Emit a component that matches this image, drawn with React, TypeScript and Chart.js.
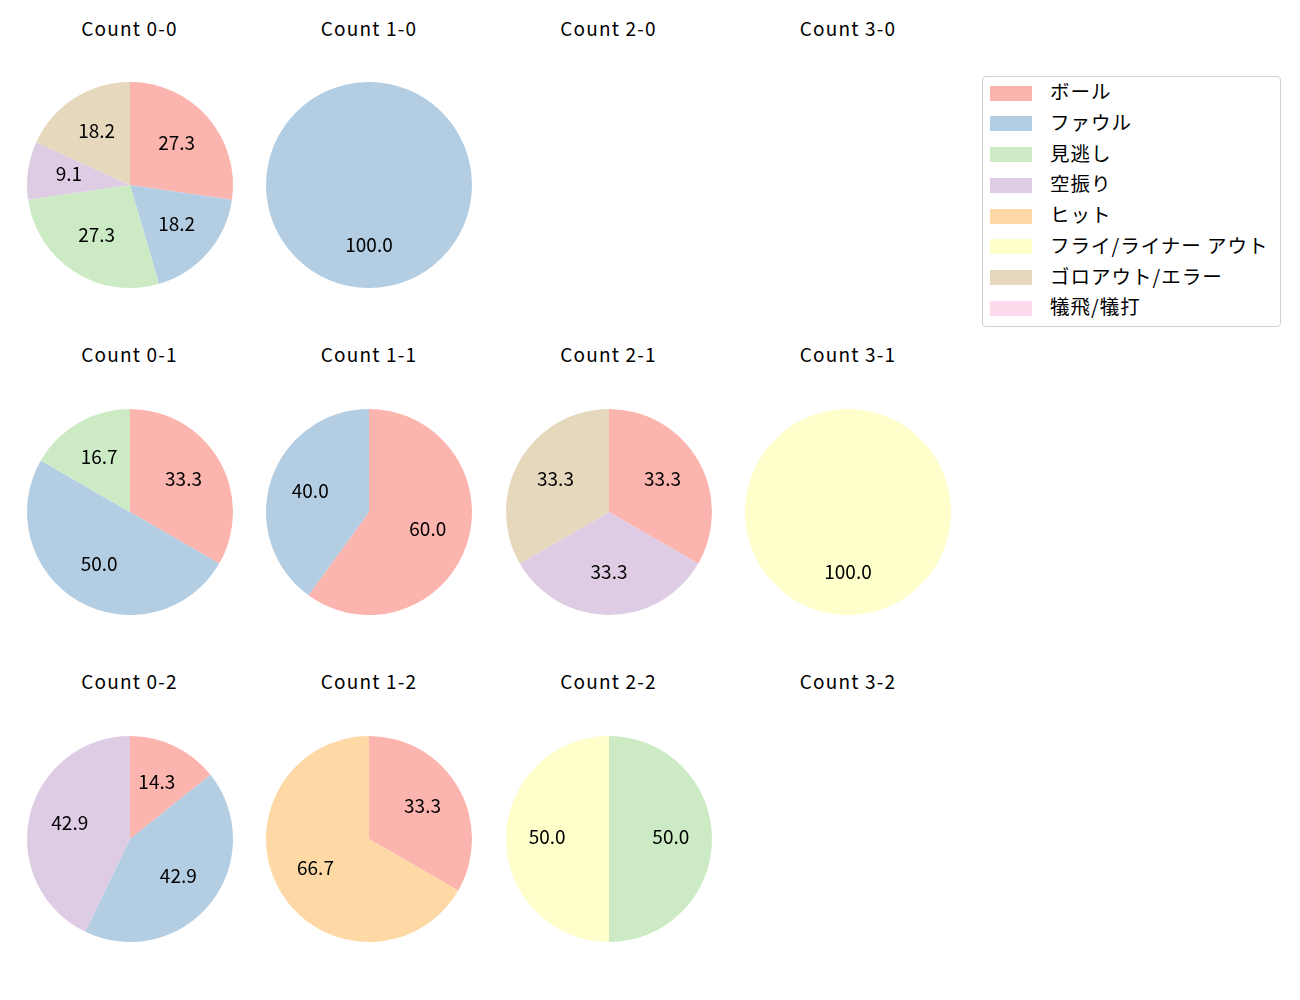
import React, { useEffect, useRef } from "react";
import { Chart, registerables } from "chart.js";

Chart.register(...registerables);

const countLabels = ["0-0", "1-0", "2-0", "3-0", "0-1", "1-1", "2-1", "3-1", "0-2", "1-2", "2-2", "3-2"];
const categories = ["ボール", "ファウル", "見逃し", "空振り", "ヒット", "フライ/ライナー アウト", "ゴロアウト/エラー", "犠飛/犠打"];
const colors = ["#fbb4ae", "#b3cde3", "#ccebc5", "#decbe4", "#fed9a6", "#ffffcc", "#e5d8bd", "#fddaec"];

// counts per category, in the order of countLabels
const ball = [3, 0, 0, 0, 2, 3, 1, 0, 1, 1, 0, 0];
const foul = [2, 1, 0, 0, 3, 2, 0, 0, 3, 0, 0, 0];
const looking = [3, 0, 0, 0, 1, 0, 0, 0, 0, 0, 1, 0];
const swinging = [1, 0, 0, 0, 0, 0, 1, 0, 3, 0, 0, 0];
const hit = [0, 0, 0, 0, 0, 0, 0, 0, 0, 2, 0, 0];
const flyOut = [0, 0, 0, 0, 0, 0, 0, 1, 0, 0, 1, 0];
const groundOut = [2, 0, 0, 0, 0, 0, 1, 0, 0, 0, 0, 0];
const sacrifice = [0, 0, 0, 0, 0, 0, 0, 0, 0, 0, 0, 0];
const seriesList = [ball, foul, looking, swinging, hit, flyOut, groundOut, sacrifice];

const FONT = '"Noto Sans CJK JP", "Noto Sans", sans-serif';
const colX = [129.5, 369, 608.5, 848];
const rowY = [185, 512, 839];
const titleY = [29, 355.5, 682];
const R = 103;
const PAD = 6;

const labelPlugin = {
  id: "pieLabels",
  afterDatasetsDraw(chart: any) {
    const ctx = chart.ctx;
    const meta = chart.getDatasetMeta(0);
    const data = chart.data.datasets[0].data as number[];
    const total = data.reduce((a, b) => a + b, 0);
    ctx.save();
    ctx.fillStyle = "#000";
    ctx.font = `19px ${FONT}`;
    ctx.textAlign = "center";
    ctx.textBaseline = "middle";
    meta.data.forEach((arc: any, i: number) => {
      const v = data[i];
      if (!v) return;
      const p = arc.getProps(["x", "y", "startAngle", "endAngle", "outerRadius"], true);
      const a = (p.startAngle + p.endAngle) / 2;
      const r = p.outerRadius * 0.6;
      ctx.fillText(((v / total) * 100).toFixed(1), p.x + Math.cos(a) * r, p.y + Math.sin(a) * r - 2);
    });
    ctx.restore();
  },
};

function Pie({ idx }: { idx: number }) {
  const ref = useRef<HTMLCanvasElement>(null);
  useEffect(() => {
    const values = seriesList.map((s) => s[idx]);
    const chart = new Chart(ref.current!, {
      type: "pie",
      data: {
        labels: categories,
        datasets: [{ data: values, backgroundColor: colors, borderWidth: 0, hoverBorderWidth: 0, hoverOffset: 0 }],
      },
      options: {
        responsive: false,
        animation: false,
        events: [],
        layout: { padding: PAD },
        plugins: { legend: { display: false }, tooltip: { enabled: false } },
      },
      plugins: [labelPlugin],
    });
    return () => chart.destroy();
  }, [idx]);
  const size = 2 * R + 2 * PAD;
  const col = idx % 4;
  const row = Math.floor(idx / 4);
  return (
    <canvas
      ref={ref}
      width={size}
      height={size}
      style={{ position: "absolute", left: colX[col] - R - PAD, top: rowY[row] - R - PAD, width: size, height: size }}
    />
  );
}

export default function App() {
  useEffect(() => {
    document.body.style.margin = "0";
  }, []);
  return (
    <div style={{ position: "relative", width: 1300, height: 1000, background: "#fff", fontFamily: FONT, color: "#000" }}>
      {countLabels.map((c, i) => {
        const total = seriesList.reduce((a, s) => a + s[i], 0);
        const col = i % 4;
        const row = Math.floor(i / 4);
        return (
          <React.Fragment key={c}>
            <div
              style={{
                position: "absolute",
                left: colX[col] - 120,
                width: 240,
                top: titleY[row] - 15.5,
                height: 28,
                lineHeight: "28px",
                textAlign: "center",
                fontSize: 19,
                letterSpacing: "1.2px",
                whiteSpace: "nowrap",
              }}
            >
              {"Count " + c}
            </div>
            {total > 0 && <Pie idx={i} />}
          </React.Fragment>
        );
      })}
      <div
        style={{
          position: "absolute",
          left: 982,
          top: 76,
          width: 297,
          height: 249,
          border: "1px solid #d0d0d0",
          borderRadius: 4,
        }}
      >
        {categories.map((c, i) => (
          <div key={c} style={{ position: "absolute", left: 0, top: 15.5 + i * 30.75 - 15, height: 30, width: 297 }}>
            <div style={{ position: "absolute", left: 7, top: 8, width: 42, height: 15, background: colors[i] }} />
            <div
              style={{
                position: "absolute",
                left: 67,
                top: -1.5,
                height: 30,
                lineHeight: "30px",
                fontSize: 19.5,
                letterSpacing: "1px",
                whiteSpace: "nowrap",
              }}
            >
              {c}
            </div>
          </div>
        ))}
      </div>
    </div>
  );
}
